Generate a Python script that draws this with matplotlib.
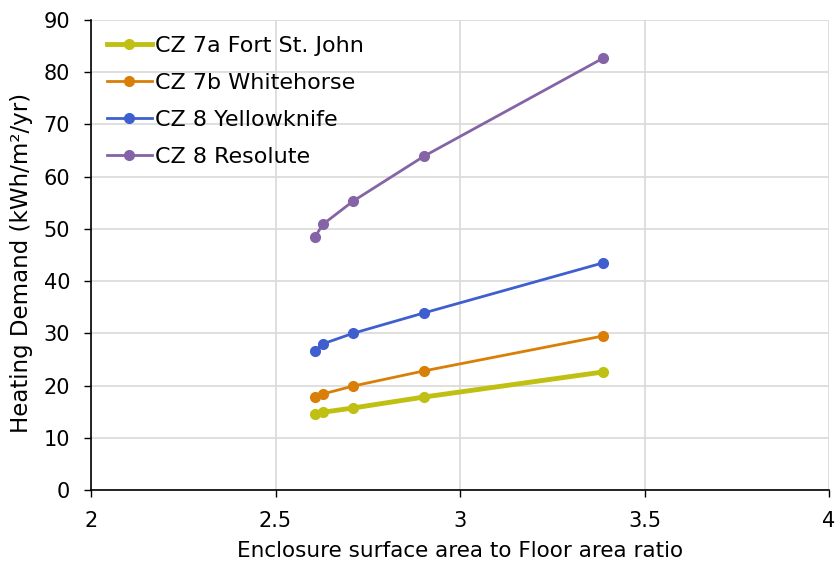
import matplotlib
matplotlib.use("Agg")
import matplotlib.pyplot as plt

x_ratio = [2.607, 2.629, 2.710, 2.902, 3.388]
fort_st_john = [14.6, 14.9, 15.7, 17.8, 22.6]
whitehorse = [17.8, 18.4, 19.9, 22.8, 29.5]
yellowknife = [26.7, 28.0, 30.0, 33.9, 43.5]
resolute = [48.5, 50.9, 55.3, 63.9, 82.7]

series_labels = ["CZ 7a Fort St. John", "CZ 7b Whitehorse", "CZ 8 Yellowknife", "CZ 8 Resolute"]
colors = ["#bfc012", "#d97e06", "#3f5fcf", "#8464a6"]
widths = [3.5, 2.0, 2.0, 2.0]

plt.rcParams['font.family'] = ['DejaVu Sans']
fig = plt.figure(figsize=(8.35, 5.68), dpi=100)
ax = fig.add_axes([91/835, 1 - 490/568, (829-91)/835, (490-20)/568])

for ys, lab, c, w in zip([fort_st_john, whitehorse, yellowknife, resolute], series_labels, colors, widths):
    ax.plot(x_ratio, ys, color=c, lw=w, marker='o', ms=7, label=lab)

ax.set_xlim(2, 4)
ax.set_ylim(0, 90)
ax.set_xticks([2, 2.5, 3, 3.5, 4])
ax.set_xticklabels(["2", "2.5", "3", "3.5", "4"])
ax.set_yticks(range(0, 91, 10))
ax.grid(True, color='#d9d9d9', lw=1.2)
ax.set_axisbelow(True)
for s in ['top', 'right']:
    ax.spines[s].set_visible(False)
for s in ['left', 'bottom']:
    ax.spines[s].set_color('black')
    ax.spines[s].set_linewidth(1.2)
ax.tick_params(axis='both', labelsize=15, color='black', length=5, width=1)
ax.tick_params(axis='x', pad=10)
ax.tick_params(axis='y', pad=10)
ax.set_xlabel("Enclosure surface area to Floor area ratio", fontsize=15.5, labelpad=7)
ax.set_ylabel("Heating Demand (kWh/m²/yr)", fontsize=16.5)
ax.yaxis.set_label_coords(-0.078, 0.483)

leg = ax.legend(loc='upper left', frameon=False, fontsize=16, handlelength=2.0,
                borderaxespad=0.0, labelspacing=0.76, handletextpad=0.15,
                bbox_to_anchor=(0.01, 0.985))

fig.savefig("out.png", dpi=100)
